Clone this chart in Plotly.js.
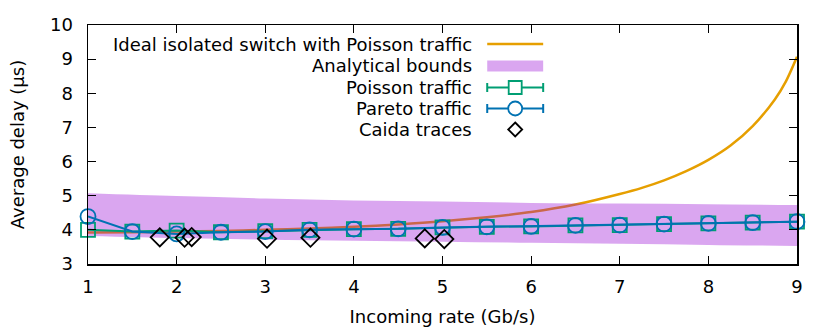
<!DOCTYPE html>
<html>
<head>
<meta charset="utf-8">
<script src="https://cdn.plot.ly/plotly-3.0.1.min.js"></script>
<style>html,body{margin:0;padding:0;background:#fff}#chart{width:830px;height:332px}</style>
</head>
<body>
<div id="chart"></div>
<script>
// Ideal isolated switch curve
const idealX = [1, 1.5, 2, 2.5, 3, 3.5, 4, 4.5, 5, 5.5, 6, 6.5, 7, 7.25, 7.5, 7.75, 8, 8.25, 8.5, 8.75, 8.875, 9];
const idealY = [3.92, 3.93, 3.95, 3.97, 4.0, 4.04, 4.09, 4.16, 4.25, 4.37, 4.52, 4.74, 5.05, 5.23, 5.45, 5.72, 6.05, 6.47, 7.04, 7.82, 8.35, 9.07];

// Analytical bounds band
const boundX = [1, 2, 3, 4, 5, 6, 7, 8, 9];
const boundUpper = [5.07, 4.99, 4.92, 4.86, 4.83, 4.79, 4.77, 4.75, 4.73];
const boundLower = [3.82, 3.76, 3.71, 3.68, 3.65, 3.62, 3.59, 3.56, 3.53];

// Simulated traffic
const rateX = [1, 1.5, 2, 2.5, 3, 3.5, 4, 4.5, 5, 5.5, 6, 6.5, 7, 7.5, 8, 8.5, 9];
const poissonY = [4.0, 3.95, 3.98, 3.93, 3.96, 4.0, 4.02, 4.03, 4.07, 4.09, 4.1, 4.13, 4.14, 4.17, 4.19, 4.21, 4.24];
const paretoY  = [4.39, 3.95, 3.88, 3.93, 3.95, 4.0, 4.02, 4.03, 4.07, 4.09, 4.1, 4.13, 4.14, 4.17, 4.19, 4.21, 4.24];

// Caida traces
const caidaX = [1.81, 2.09, 2.17, 3.02, 3.51, 4.80, 5.02];
const caidaY = [3.78, 3.77, 3.79, 3.74, 3.77, 3.75, 3.73];

// Legend labels
const legendLabels = ["Ideal isolated switch with Poisson traffic", "Analytical bounds", "Poisson traffic", "Pareto traffic", "Caida traces"];

const ORANGE = '#e69f00', GREEN = '#009e73', BLUE = '#0072b2', BAND = 'rgba(148,0,211,0.35)';
const FONT = 'DejaVu Sans, sans-serif';
const FS = 18;

const traces = [
  {x: idealX, y: idealY, mode: 'lines', line: {color: ORANGE, width: 2.5, shape: 'spline', smoothing: 0.8}, hoverinfo: 'skip'},
  {x: boundX, y: boundLower, mode: 'lines', line: {width: 0, color: 'rgba(0,0,0,0)', shape: 'spline'}, hoverinfo: 'skip'},
  {x: boundX, y: boundUpper, mode: 'lines', fill: 'tonexty', fillcolor: BAND, line: {width: 0, color: 'rgba(0,0,0,0)', shape: 'spline'}, hoverinfo: 'skip'},
  {x: rateX, y: poissonY, mode: 'lines+markers', cliponaxis: false, line: {color: GREEN, width: 2},
   marker: {symbol: 'square-open', size: 14, color: GREEN, line: {width: 1.8, color: GREEN}}},
  {x: rateX, y: paretoY, mode: 'lines+markers', cliponaxis: false, line: {color: BLUE, width: 2},
   marker: {symbol: 'circle-open', size: 15, color: BLUE, line: {width: 1.8, color: BLUE}}},
  {x: caidaX, y: caidaY, mode: 'markers', cliponaxis: false,
   marker: {symbol: 'diamond-open', size: 14, color: '#000', line: {width: 1.8, color: '#000'}}}
];

// Legend drawn gnuplot-style (text right, sample on the right)
const L = 87.5, R = 797, T = 25, B = 264;
const px = v => (v - L) / (R - L);
const py = v => (B - v) / (B - T);
const rowsY = [44, 66, 87.5, 108.5, 129.5];
const textRight = 474, sL = 487, sR = 543, sC = 515;
const annotations = legendLabels.map((t, i) => ({
  xref: 'paper', yref: 'paper', x: px(textRight), y: py(rowsY[i]), xanchor: 'right', yanchor: 'middle',
  text: t, showarrow: false, font: {family: FONT, size: FS, color: '#000'}
}));
const shapes = [];
shapes.push({type: 'line', xref: 'paper', yref: 'paper', x0: px(sL), x1: px(sR), y0: py(rowsY[0]), y1: py(rowsY[0]), line: {color: ORANGE, width: 2.5}});
shapes.push({type: 'rect', xref: 'paper', yref: 'paper', x0: px(sL), x1: px(sR), y0: py(rowsY[1] - 5.5), y1: py(rowsY[1] + 5.5), fillcolor: BAND, line: {width: 0}});
[[2, GREEN, 'rect'], [3, BLUE, 'circle']].forEach(([i, c, kind]) => {
  const y = rowsY[i];
  shapes.push({type: 'line', xref: 'paper', yref: 'paper', x0: px(sL), x1: px(sR), y0: py(y), y1: py(y), line: {color: c, width: 2}});
  shapes.push({type: 'line', xref: 'paper', yref: 'paper', x0: px(sL), x1: px(sL), y0: py(y - 4.5), y1: py(y + 4.5), line: {color: c, width: 2}});
  shapes.push({type: 'line', xref: 'paper', yref: 'paper', x0: px(sR), x1: px(sR), y0: py(y - 4.5), y1: py(y + 4.5), line: {color: c, width: 2}});
  const h = kind === 'rect' ? 6.5 : 7;
  shapes.push({type: kind, xref: 'paper', yref: 'paper', x0: px(sC - h), x1: px(sC + h), y0: py(y - h), y1: py(y + h), fillcolor: '#fff', line: {color: c, width: 1.8}});
});
{
  const y = rowsY[4], h = 7;
  shapes.push({type: 'path', xref: 'paper', yref: 'paper',
    path: `M ${px(sC)} ${py(y - h)} L ${px(sC + h)} ${py(y)} L ${px(sC)} ${py(y + h)} L ${px(sC - h)} ${py(y)} Z`,
    line: {color: '#000', width: 1.8}});
}

const axisCommon = {
  showgrid: false, zeroline: false, showline: true, linecolor: '#000', linewidth: 1.5, mirror: 'allticks',
  ticks: 'inside', ticklen: 8, tickwidth: 1.2, tickcolor: '#000',
  tickfont: {family: FONT, size: FS, color: '#000'}
};

const layout = {
  width: 830, height: 332,
  margin: {l: L, r: 830 - R, t: T, b: 332 - B},
  paper_bgcolor: '#fff', plot_bgcolor: '#fff',
  showlegend: false,
  font: {family: FONT, size: FS, color: '#000'},
  xaxis: Object.assign({}, axisCommon, {range: [1, 9], dtick: 1, tick0: 1, ticklabelstandoff: 6,
    title: {text: 'Incoming rate (Gb/s)', font: {family: FONT, size: FS, color: '#000'}, standoff: 14}}),
  yaxis: Object.assign({}, axisCommon, {range: [3, 10], dtick: 1, tick0: 3, ticklabelstandoff: 10,
    title: {text: 'Average delay (µs)', font: {family: FONT, size: FS, color: '#000'}, standoff: 20}}),
  annotations: annotations,
  shapes: shapes
};

Plotly.newPlot('chart', traces, layout, {displayModeBar: false, staticPlot: true});
</script>
</body>
</html>
